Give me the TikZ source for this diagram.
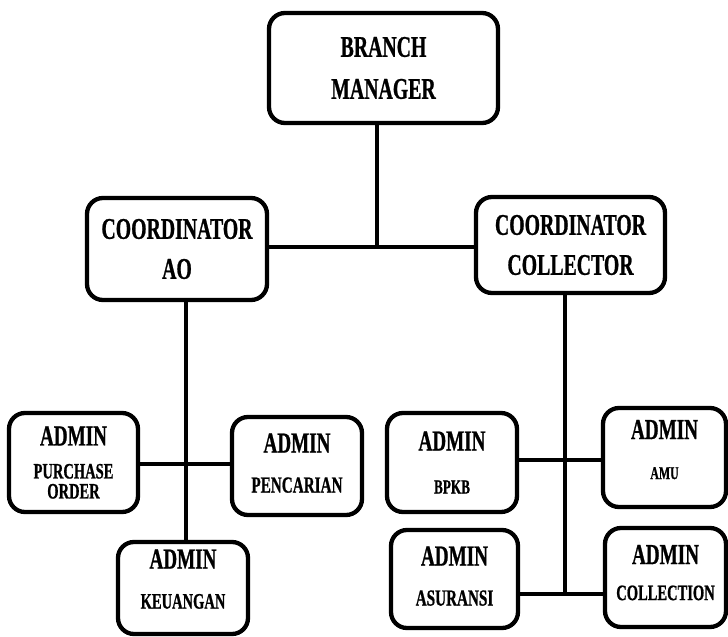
\documentclass[tikz,border=0pt]{standalone}
\usepackage{fontspec}
\newfontfamily\orgfont{Liberation Serif}[FakeStretch=0.66, FakeBold=0.8]
\usetikzlibrary{positioning, calc}
\newcommand{\unitsize}[2]{{\fontsize{#1}{40}\selectfont #2}}

\begin{document}
\begin{tikzpicture}[
  x=1pt, y=-1pt,
  unit/.style={rounded corners=16pt, draw=black, line width=4.3pt, fill=white,
    align=center, inner sep=0pt, font=\orgfont\bfseries\fontsize{29}{40}\selectfont},
  link/.style={draw=black, line width=3.2pt}]
  \useasboundingbox (0,0) rectangle (728,637);
  \node[unit, minimum width=229pt, minimum height=110pt, font=\orgfont\bfseries\fontsize{30}{42}\selectfont]
    (bm) at (383.5,68) {BRANCH\\MANAGER};
  \node[unit, minimum width=180pt, minimum height=102pt, font=\orgfont\bfseries\fontsize{30}{40}\selectfont]
    (ao) at (177,249) {COORDINATOR\\AO};
  \node[unit, minimum width=189pt, minimum height=96pt, font=\orgfont\bfseries\fontsize{30}{40}\selectfont]
    (cc) at (570.5,245) {COORDINATOR\\COLLECTOR};
  % admin under coordinator AO
  \node[unit, minimum width=129pt, minimum height=99pt] (po) at (73.5,462.5)
    {ADMIN\\[-7pt]\unitsize{22}{PURCHASE}\\[-20pt]\unitsize{22}{ORDER}};
  \node[unit, minimum width=130pt, minimum height=98pt] (pc) at (297,466)
    {ADMIN\\\unitsize{23}{PENCARIAN}\\[-34pt]};
  \node[unit, minimum width=130pt, minimum height=92pt] (ke) at (183,588)
    {ADMIN\\\unitsize{22}{KEUANGAN}\\[-22pt]};
  % admin under coordinator collector
  \node[unit, minimum width=130pt, minimum height=99pt] (bp) at (452,462.5)
    {ADMIN\\[3pt]\unitsize{20}{BPKB}};
  \node[unit, minimum width=123pt, minimum height=99pt] (am) at (664.5,457.5)
    {ADMIN\\\unitsize{18}{AMU}\\[-24pt]};
  \node[unit, minimum width=127pt, minimum height=98pt] (as) at (454.5,579)
    {ADMIN\\\unitsize{23}{ASURANSI}\\[-34pt]};
  \node[unit, minimum width=121pt, minimum height=99pt] (co) at (665.5,577.5)
    {ADMIN\\[-4pt]\unitsize{22}{COLLECTION}\\[-30pt]};
  % connectors
  \coordinate (top) at (377,247);
  \coordinate (aomid) at (186,464);
  \coordinate (ccmid) at (565,460);
  \coordinate (ccend) at (565,594);
  \draw[link] (bm.south -| top) -- (top);
  \draw[link] (ao.east |- top) -- (cc.west |- top);
  \draw[link] (ao.south -| aomid) -- (ke.north -| aomid);
  \draw[link] (po.east |- aomid) -- (pc.west |- aomid);
  \draw[link] (cc.south -| ccend) -- (ccend);
  \draw[link] (bp.east |- ccmid) -- (am.west |- ccmid);
  \draw[link] (as.east |- ccend) -- (co.west |- ccend);
\end{tikzpicture}
\end{document}
